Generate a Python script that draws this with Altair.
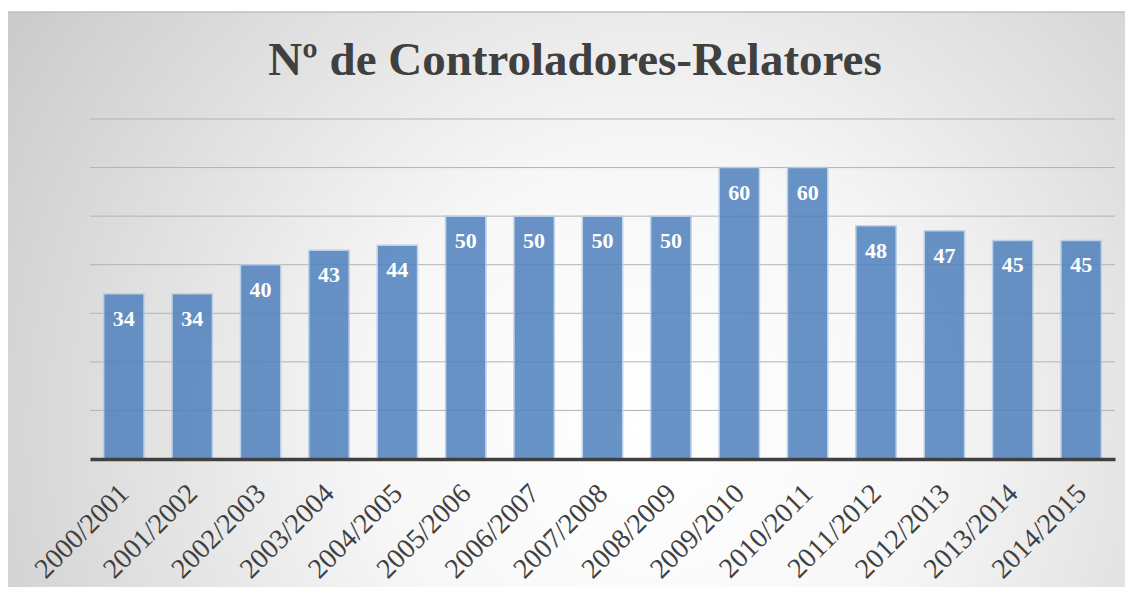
import altair as alt
import pandas as pd

years = ["2000/2001", "2001/2002", "2002/2003", "2003/2004", "2004/2005",
         "2005/2006", "2006/2007", "2007/2008", "2008/2009", "2009/2010",
         "2010/2011", "2011/2012", "2012/2013", "2013/2014", "2014/2015"]
values = [34, 34, 40, 43, 44, 50, 50, 50, 50, 60, 60, 48, 47, 45, 45]
y_ticks = [10, 20, 30, 40, 50, 60, 70]
title_text = ["Nº de Controladores-Relatores"]

df = pd.DataFrame({"ano": years, "n": values})
grid_df = pd.DataFrame({"g": y_ticks})
title_df = pd.DataFrame({"t": title_text})

W, H = 1025, 340
PAD = {"left": 82, "top": 111, "right": 10, "bottom": 128}

bg_gradient = {
    "gradient": "radial",
    "x1": 0.56, "y1": 0.6, "r1": 0.0,
    "x2": 0.56, "y2": 0.6, "r2": 0.8,
    "stops": [
        {"offset": 0.0, "color": "#ffffff"},
        {"offset": 0.3, "color": "#f7f7f7"},
        {"offset": 1.0, "color": "#bcbcbc"},
    ],
}

background = alt.Chart(pd.DataFrame({"k": [0]})).mark_rect(
    fill=bg_gradient, stroke="#bfbfbf", strokeWidth=1.5
).encode(
    x=alt.value(-83), x2=alt.value(W + 40),
    y=alt.value(-107), y2=alt.value(H + 160),
)

title = alt.Chart(title_df).mark_text(
    font="Liberation Serif", fontSize=47, fontWeight="bold", color="#404040",
    align="center", baseline="alphabetic"
).encode(x=alt.value(485), y=alt.value(-44), text="t:N")

yscale = alt.Scale(domain=[0, 70])

grid = alt.Chart(grid_df).mark_rule(color="#b3b3b3", strokeWidth=1).encode(
    y=alt.Y("g:Q", scale=yscale, axis=None),
)

base = alt.Chart(df).encode(
    x=alt.X("ano:N", sort=years, title=None,
            scale=alt.Scale(paddingInner=0.41, paddingOuter=0.2),
            axis=alt.Axis(labelAngle=-45, labelAlign="right", labelBaseline="middle",
                          labelFont="Liberation Serif", labelFontSize=28,
                          labelColor="#404040", labelPadding=30, labelOffset=1,
                          ticks=False, domainColor="#404040", domainWidth=3.5,
                          labelOverlap=False, zindex=2)),
)

bars = base.mark_bar(color="#4f81bd", opacity=0.85, stroke="#b4cce8",
                     strokeWidth=1.5).encode(
    y=alt.Y("n:Q", title=None, scale=yscale, axis=None),
)

labels = base.mark_text(font="Liberation Serif", fontSize=22, fontWeight="bold",
                        color="white", baseline="middle", dy=25).encode(
    y=alt.Y("n:Q", scale=yscale, axis=None),
    text=alt.Text("n:Q"),
)

chart = alt.layer(background, title, grid, bars, labels).properties(
    width=W, height=H,
    autosize=alt.AutoSizeParams(type="none"),
    padding=PAD,
).configure_view(stroke=None).configure(background="white")

chart.save("out.html", embed_options={"renderer": "svg", "actions": False})
